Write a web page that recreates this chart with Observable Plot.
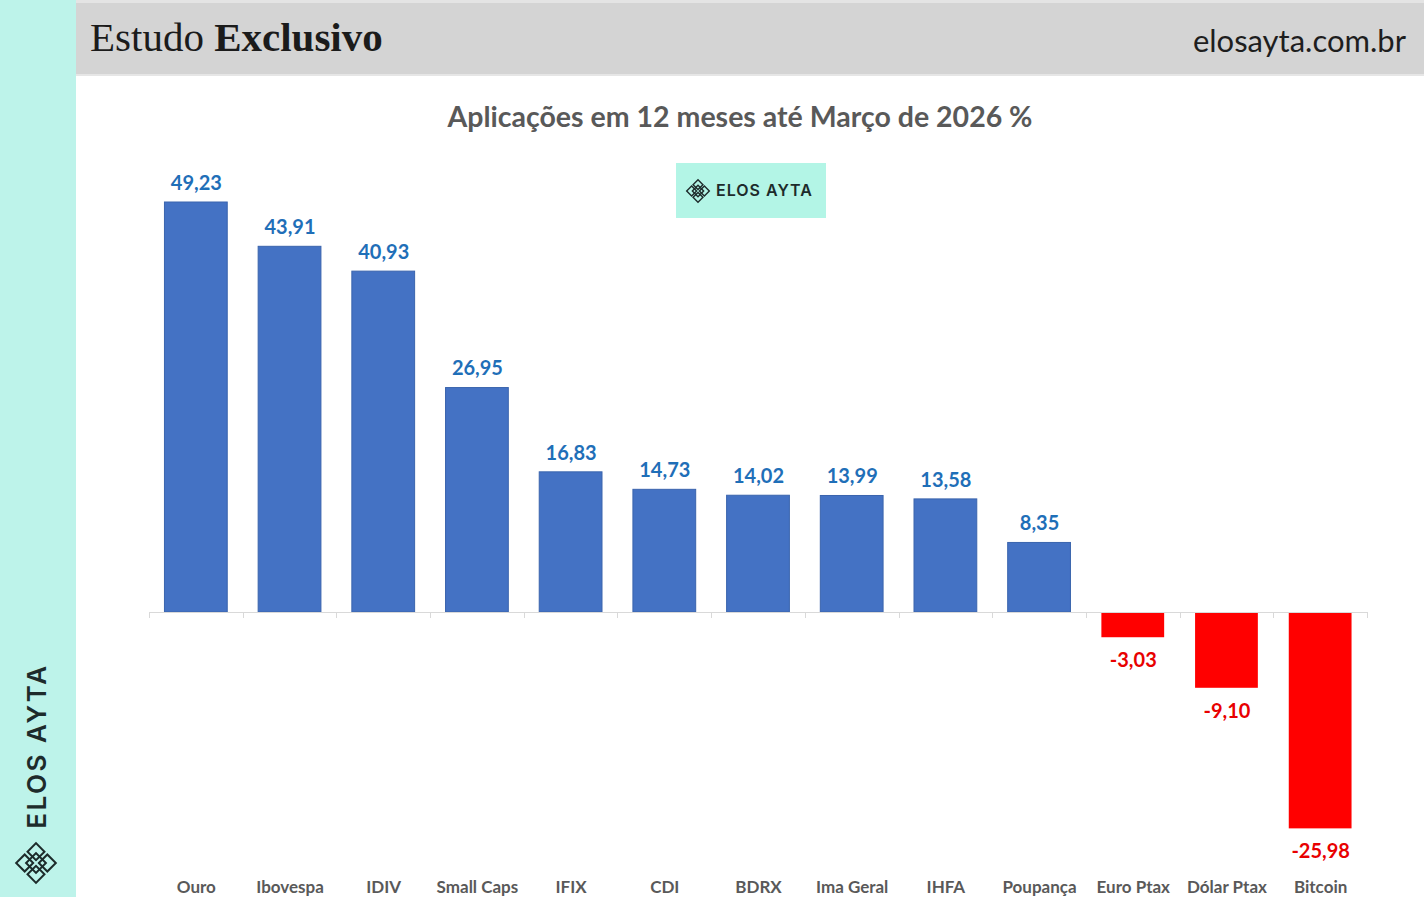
<!DOCTYPE html>
<html>
<head>
<meta charset="utf-8">
<script src="https://cdn.jsdelivr.net/npm/d3@7"></script>
<script src="https://cdn.jsdelivr.net/npm/@observablehq/plot@0.6"></script>
<style>
  html, body { margin: 0; padding: 0; background: #ffffff; width: 1424px; height: 897px; overflow: hidden; }
  #sidebar { position: absolute; left: 0; top: 0; width: 76px; height: 897px; background: #bdf3ea; }
  #header { position: absolute; left: 76px; top: 0; width: 1348px; height: 76px; background: #d4d4d4;
            border-top: 3px solid #e4e4e4; border-bottom: 2px solid #e6e6e6; box-sizing: border-box; }
  #brand { position: absolute; left: 14px; top: 10px; font-family: "Liberation Serif", serif; font-size: 41px; color: #1b1b1b; }
  #site { position: absolute; right: 18px; top: 18px; font-family: Lato, sans-serif; font-size: 31px; color: #1e1e1e; }
  #title { position: absolute; left: 76px; width: 1328px; top: 99px; text-align: center;
           font-family: Lato, sans-serif; font-weight: bold; font-size: 28.5px; color: #595959; }
  #logo { position: absolute; left: 676px; top: 163px; width: 150px; height: 55px; background: #b3f5e6; }
  #logo span { position: absolute; left: 40px; top: 17px; font-family: Inter, sans-serif; font-weight: 600;
               font-size: 16px; letter-spacing: 1px; color: #1d2b2b; }
  #logo svg { position: absolute; left: 8px; top: 14px; }
  #vert { position: absolute; left: 36px; top: 746px; transform: translate(-50%, -50%) rotate(-90deg);
          font-family: Inter, sans-serif; font-weight: 600; font-size: 26px; letter-spacing: 2.5px; color: #1d2b2b; white-space: nowrap; }
  #sideicon { position: absolute; left: 13px; top: 840px; }
  #chart { position: absolute; left: 76px; top: 140px; }
</style>
</head>
<body>
<div id="sidebar"></div>
<div id="header">
  <div id="brand">Estudo <b>Exclusivo</b></div>
  <div id="site">elosayta.com.br</div>
</div>
<div id="title">Aplicações em 12 meses até Março de 2026 %</div>
<div id="logo">
  <svg width="28" height="28" viewBox="-14 -14 28 28">
    <g transform="rotate(45)" fill="none" stroke="#1d2b2b" stroke-width="1.4">
      <rect x="-8" y="-8" width="7" height="7"/><rect x="1" y="-8" width="7" height="7"/>
      <rect x="-8" y="1" width="7" height="7"/><rect x="1" y="1" width="7" height="7"/>
      <rect x="-4" y="-4" width="8" height="8"/>
    </g>
  </svg>
  <span>ELOS AYTA</span>
</div>
<div id="vert">ELOS AYTA</div>
<svg id="sideicon" width="46" height="46" viewBox="-23 -23 46 46">
  <g transform="rotate(45)" fill="none" stroke="#1d2b2b" stroke-width="2">
    <rect x="-14" y="-14" width="12" height="12"/><rect x="2" y="-14" width="12" height="12"/>
    <rect x="-14" y="2" width="12" height="12"/><rect x="2" y="2" width="12" height="12"/>
    <rect x="-7" y="-7" width="14" height="14"/>
  </g>
</svg>
<div id="chart"></div>
<script>
const categories = ["Ouro", "Ibovespa", "IDIV", "Small Caps", "IFIX", "CDI", "BDRX", "Ima Geral", "IHFA", "Poupança", "Euro Ptax", "Dólar Ptax", "Bitcoin"];
const values = [49.23, 43.91, 40.93, 26.95, 16.83, 14.73, 14.02, 13.99, 13.58, 8.35, -3.03, -9.10, -25.98];

const data = categories.map((c, i) => ({cat: c, value: values[i]}));
const fmt = d => d.value.toFixed(2).replace(".", ",");
const BLUE = "#4472c4", RED = "#ff0000";

function boundaryTicks(index, scales, channels, dims) {
  const n = categories.length;
  const x0 = dims.marginLeft, x1 = dims.width - dims.marginRight;
  const y0 = scales.y(0);
  const g = d3.create("svg:g").attr("stroke", "#d9d9d9").attr("stroke-width", 1);
  for (let k = 0; k <= n; k++) {
    const x = Math.round(x0 + (x1 - x0) * k / n) + 0.5;
    g.append("line").attr("x1", x).attr("x2", x).attr("y1", y0).attr("y2", y0 + 6);
  }
  return g.node();
}

const chart = Plot.plot({
  width: 1348,
  height: 760,
  marginLeft: 73,
  marginRight: 57,
  marginTop: 0,
  marginBottom: 20,
  style: {fontFamily: "Lato, sans-serif", background: "transparent"},
  x: {domain: categories, paddingInner: 0.33, paddingOuter: 0.165, round: false, label: null},
  y: {domain: [0, d3.max(values)], range: [472, 62], axis: null},
  color: {type: "identity"},
  marks: [
    Plot.barY(data, {x: "cat", y: "value",
      fill: d => d.value < 0 ? RED : BLUE,
      stroke: d => d.value < 0 ? "none" : "#3a64ad", strokeWidth: 1}),
    Plot.ruleY([0], {stroke: "#d9d9d9", strokeWidth: 1.2}),
    boundaryTicks,
    Plot.text(data.filter(d => d.value >= 0), {x: "cat", y: "value", text: fmt, dy: -19,
      fill: "#1f6fb8", fontSize: 20, fontWeight: "bold"}),
    Plot.text(data.filter(d => d.value < 0), {x: "cat", y: "value", text: fmt, dy: 23,
      fill: "#e80000", fontSize: 20, fontWeight: "bold"}),
    Plot.axisX({anchor: "bottom", tickSize: 0, tickPadding: 0, fontSize: 17, fontWeight: "bold",
      fill: "#595959", label: null})
  ]
});
document.getElementById("chart").appendChild(chart);
</script>
</body>
</html>
